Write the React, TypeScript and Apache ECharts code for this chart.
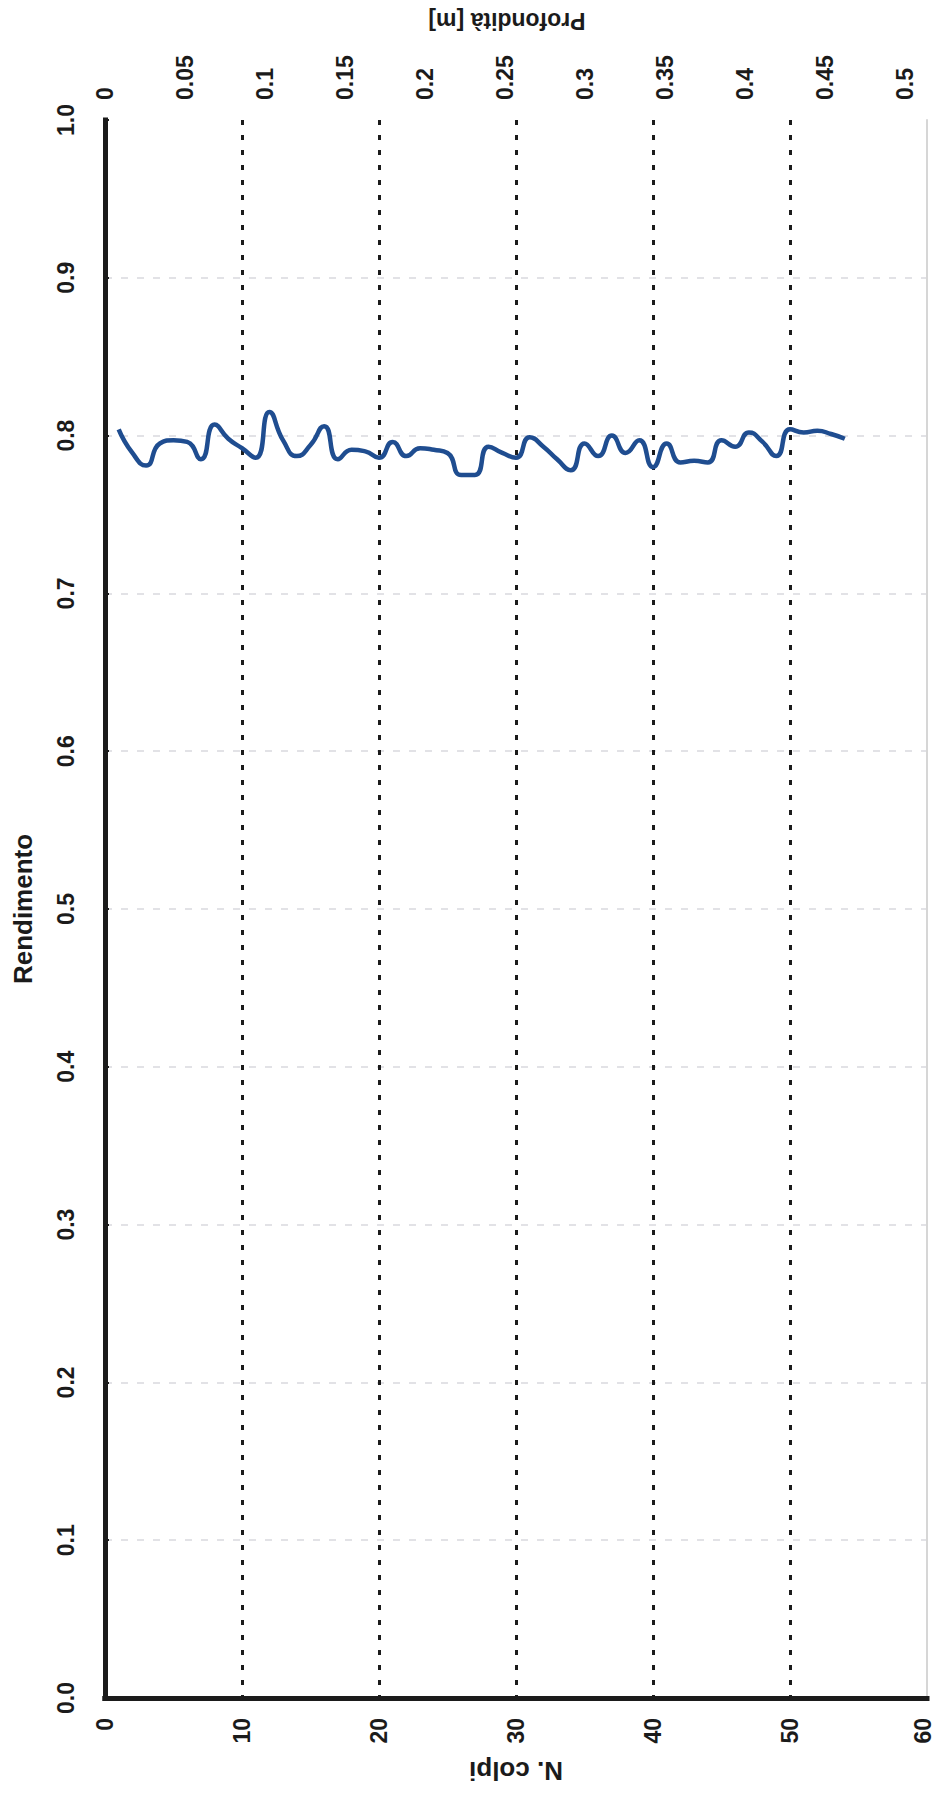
import React, { useEffect, useRef } from "react";
import * as echarts from "echarts";

// N. colpi (blow count)
const colpi: number[] = [
  1, 2, 3, 4, 5, 6, 7, 8, 9, 10, 11, 12, 13, 14, 15, 16, 17, 18, 19, 20, 21, 22, 23, 24, 25, 26, 27,
  28, 29, 30, 31, 32, 33, 34, 35, 36, 37, 38, 39, 40, 41, 42, 43, 44, 45, 46, 47, 48, 49, 50, 51, 52,
  53, 54,
];

// Rendimento (efficiency)
const rendimento: number[] = [
  0.804, 0.789, 0.781, 0.795, 0.797, 0.796, 0.785, 0.807, 0.798, 0.792, 0.786, 0.815, 0.797, 0.787,
  0.794, 0.806, 0.785, 0.791, 0.79, 0.786, 0.796, 0.787, 0.792, 0.791, 0.789, 0.775, 0.775, 0.793,
  0.789, 0.786, 0.799, 0.793, 0.785, 0.778, 0.795, 0.787, 0.8, 0.789, 0.797, 0.78, 0.795, 0.783,
  0.784, 0.783, 0.797, 0.793, 0.802, 0.796, 0.787, 0.804, 0.802, 0.803, 0.801, 0.798,
];

const FONT = "'Liberation Sans', Arial, sans-serif";
const INK = "#1b1b1b";

export default function App() {
  const ref = useRef<HTMLDivElement>(null);

  useEffect(() => {
    if (!ref.current) return;
    const chart = echarts.init(ref.current, undefined, { renderer: "svg" });

    const labelBase = {
      rotate: 90,
      fontSize: 23,
      fontWeight: "bold" as const,
      color: INK,
      fontFamily: FONT,
    };
    const thickLine = { show: true, lineStyle: { color: INK, width: 5, cap: "square" } };

    chart.setOption({
      animation: false,
      backgroundColor: "#ffffff",
      grid: [
        { left: 105, top: 120, width: 822, height: 1578, outerBoundsMode: "none" },
        { left: 105, top: 120, width: 800, height: 1578, outerBoundsMode: "none" },
      ],
      xAxis: [
        {
          gridIndex: 0,
          type: "value",
          position: "bottom",
          min: 0,
          max: 60,
          interval: 10,
          axisLine: thickLine,
          axisTick: { show: false },
          axisLabel: {
            ...labelBase,
            margin: 20,
            formatter: (v: number) => (v === 60 ? "{e|60}" : String(v)),
            rich: {
              e: {
                fontSize: 23,
                fontWeight: "bold",
                fontFamily: FONT,
                color: INK,
                padding: [0, 0, 9, 0],
              },
            },
          },
          splitLine: {
            show: true,
            showMinLine: false,
            showMaxLine: false,
            lineStyle: { color: INK, width: 3, type: [5, 10] },
          },
        },
        {
          gridIndex: 1,
          type: "value",
          position: "top",
          min: 0,
          max: 0.5,
          interval: 0.05,
          axisLine: thickLine,
          axisTick: { show: false },
          axisLabel: {
            ...labelBase,
            margin: 20,
            formatter: (v: number) => String(+v.toFixed(2)),
          },
          splitLine: { show: false },
        },
      ],
      yAxis: [
        {
          gridIndex: 0,
          type: "value",
          position: "left",
          min: 0,
          max: 1,
          interval: 0.1,
          axisLine: thickLine,
          axisTick: { show: true, inside: true, length: 4, lineStyle: { color: INK, width: 2 } },
          axisLabel: { ...labelBase, margin: 28, formatter: (v: number) => v.toFixed(1) },
          splitLine: {
            show: true,
            showMinLine: false,
            showMaxLine: false,
            lineStyle: { color: "#e2e2e6", width: 2, type: [7, 9] },
          },
        },
        {
          gridIndex: 0,
          type: "value",
          position: "right",
          min: 0,
          max: 1,
          axisLine: { show: true, lineStyle: { color: "#d6d6d6", width: 2 } },
          axisTick: { show: false },
          axisLabel: { show: false },
          splitLine: { show: false },
        },
        {
          gridIndex: 1,
          type: "value",
          min: 0,
          max: 1,
          show: false,
        },
      ],
      series: [
        {
          type: "line",
          xAxisIndex: 0,
          yAxisIndex: 0,
          data: colpi.map((n, i) => [n, rendimento[i]]),
          smooth: 0.55,
          symbol: "none",
          showSymbol: false,
          lineStyle: { color: "#1f4d90", width: 4.5 },
          z: 5,
        },
      ],
      graphic: [
        {
          type: "text",
          x: 23,
          y: 909,
          rotation: Math.PI / 2,
          style: {
            text: "Rendimento",
            fontSize: 26,
            fontWeight: "bold",
            fontFamily: FONT,
            fill: INK,
            align: "center",
            verticalAlign: "middle",
          },
        },
        {
          type: "text",
          x: 516,
          y: 1771,
          rotation: Math.PI,
          style: {
            text: "N. colpi",
            fontSize: 26,
            fontWeight: "bold",
            fontFamily: FONT,
            fill: INK,
            align: "center",
            verticalAlign: "middle",
          },
        },
        {
          type: "text",
          x: 507,
          y: 21,
          rotation: Math.PI,
          style: {
            text: "Profondità [m]",
            fontSize: 23,
            fontWeight: "bold",
            fontFamily: FONT,
            fill: INK,
            align: "center",
            verticalAlign: "middle",
          },
        },
      ],
    });

    return () => chart.dispose();
  }, []);

  return (
    <div
      ref={ref}
      style={{ position: "absolute", left: 0, top: 0, width: 937, height: 1799, background: "#fff" }}
    />
  );
}
